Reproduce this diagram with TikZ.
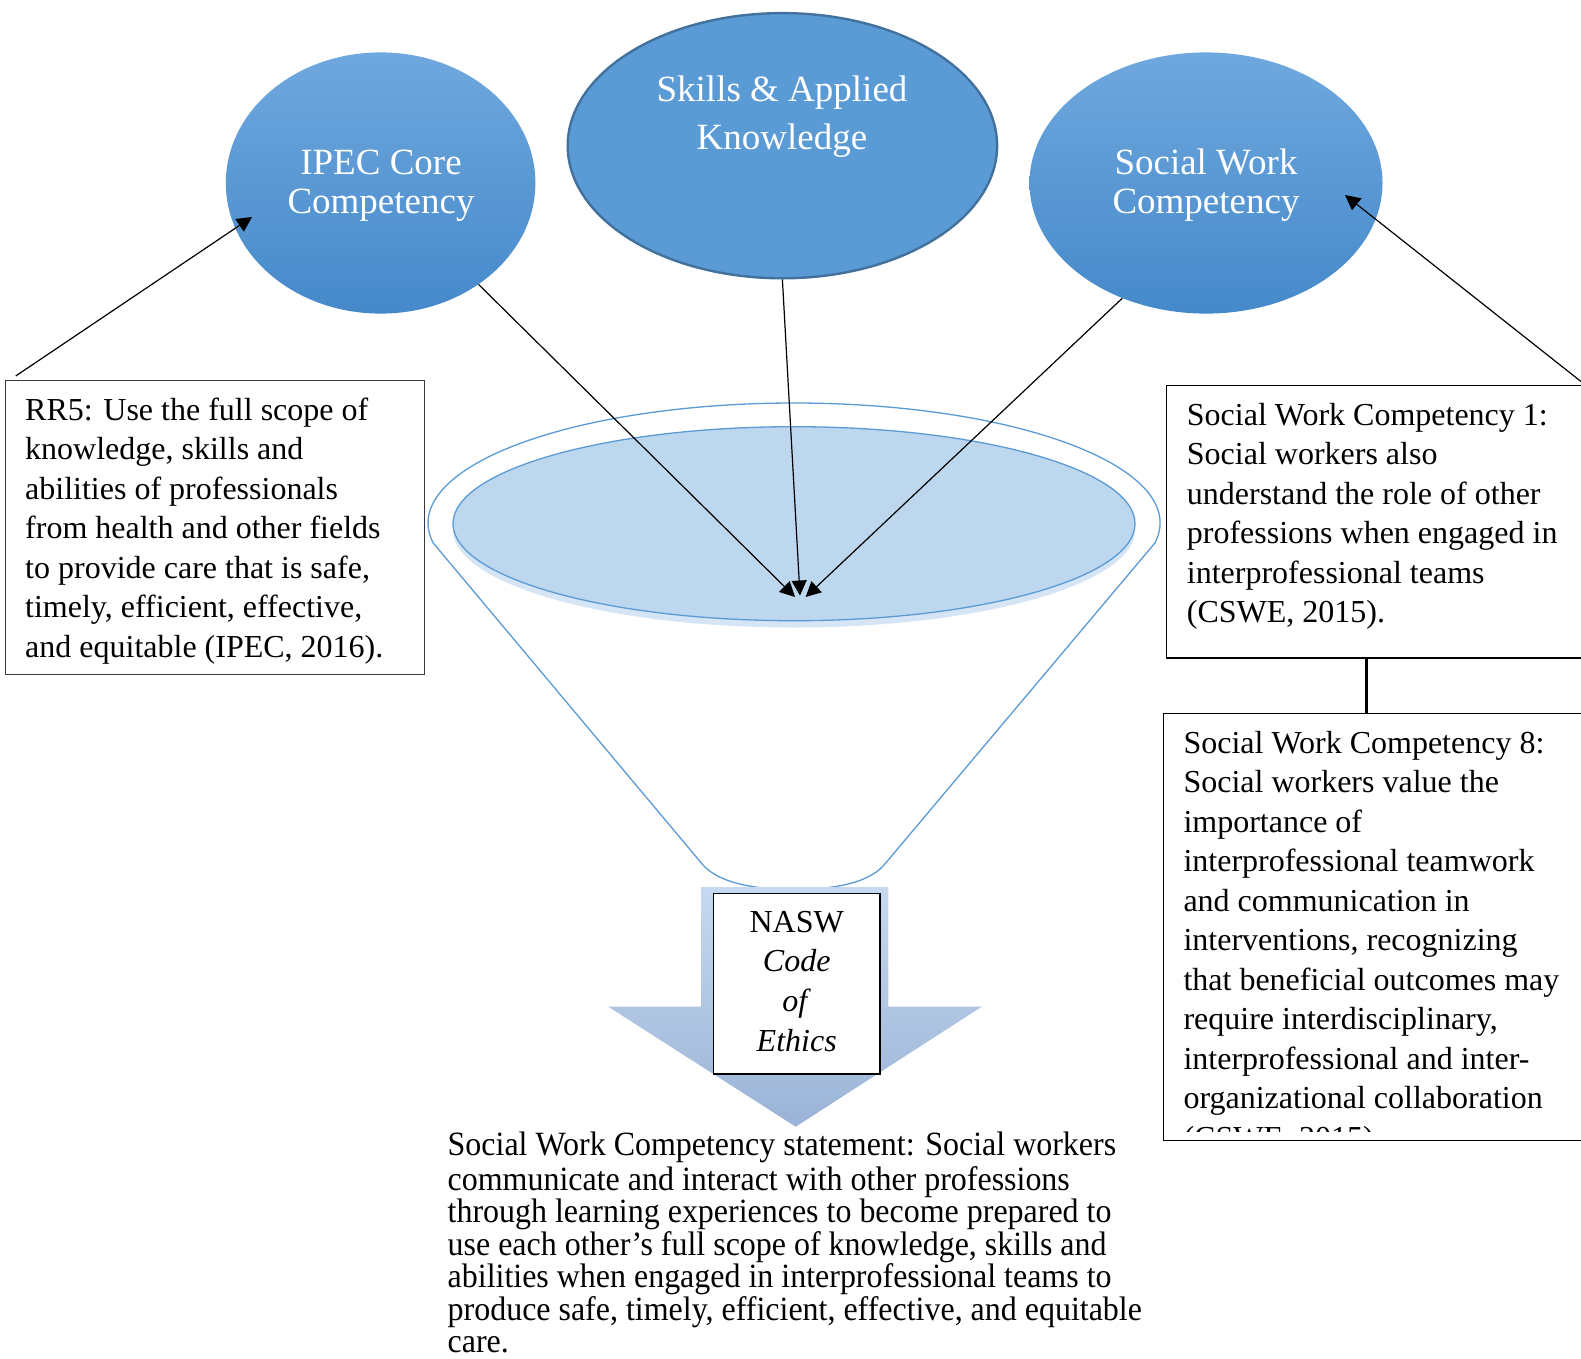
\documentclass[tikz,border=0pt]{standalone}
\usepackage{fontspec}
\setmainfont{Liberation Serif}
\newfontfamily\narrowfont[FakeStretch=0.94]{Liberation Serif}
\usetikzlibrary{arrows.meta,calc,shapes.geometric}

\definecolor{ovalTop}{HTML}{6FA8DE}
\definecolor{ovalBot}{HTML}{4589CA}
\definecolor{ovalFill}{HTML}{5B9BD5}
\definecolor{ovalEdge}{HTML}{41719C}
\definecolor{rimBlue}{HTML}{5B9BD5}
\definecolor{poolFill}{HTML}{BDD7EE}
\definecolor{poolShade}{HTML}{D6E5F5}
\definecolor{flowTop}{HTML}{C6D9F0}
\definecolor{flowBot}{HTML}{9AB3D6}
\definecolor{boxEdge}{HTML}{3A3A3A}

\begin{document}
\begin{tikzpicture}[x=1pt,y=1pt,
  oval/.style={ellipse, inner sep=0pt},
  ovaltext/.style={text=white, align=center, anchor=north, inner sep=0pt,
    font=\fontsize{37}{39}\selectfont},
  textbox/.style={draw=boxEdge, line width=1.4pt, fill=white, inner sep=0pt,
    anchor=north west},
  bodytext/.style={align=left, anchor=north west, inner sep=0pt,
    font=\fontsize{32}{39.5}\selectfont},
  link/.style={draw=black, line width=1.2pt, -{Triangle[length=15pt,width=15pt]}},
]
% canvas
\fill[white] (0,0) rectangle (1581,-1358);
\useasboundingbox (0,0) rectangle (1581,-1358);

% the three competency ovals
\node[oval, minimum width=309.6, minimum height=261.2,
  top color=ovalTop, bottom color=ovalBot] (ipec) at (380.6,-183) {};
\node[oval, minimum width=429.4, minimum height=265.2,
  fill=ovalFill, draw=ovalEdge, line width=2.4pt] (skills) at (782.4,-145.7) {};
\node[oval, minimum width=353, minimum height=261.2,
  top color=ovalTop, bottom color=ovalBot] (sw) at (1206,-183) {};

\node[ovaltext] (ipecT) at (381,-146.7) {\strut IPEC Core\\Competency};
\node[ovaltext, font=\fontsize{37}{47.3}\selectfont] (skillsT) at (782,-68.6)
  {\strut Skills \& Applied\\Knowledge};
\node[ovaltext] (swT) at (1206,-146.7) {\strut Social Work\\Competency};

% funnel outline
\draw[rimBlue, line width=1.3pt]
  (1154.9,-543) arc[start angle=-9.6, end angle=189.6, x radius=366, y radius=120]
  -- (703,-865)
  .. controls (722,-886) and (765,-889.5) .. (794,-889.5)
  .. controls (823,-889.5) and (866,-886) .. (884,-865)
  -- cycle;

% funnel pool with its soft shadow
\fill[poolShade] (794,-530) ellipse [x radius=341, y radius=97.5];
\node[oval, minimum width=682, minimum height=194, fill=poolFill,
  draw=rimBlue, line width=1.3pt] (pool) at (794,-523.7) {};

% broad downward arrow
\shade[top color=flowTop, bottom color=flowBot]
  (701,-887) -- (888.3,-887) -- (888.3,-1006.7) -- (981.7,-1006.7)
  -- (795.7,-1126.7) -- (608.3,-1006.7) -- (701,-1006.7) -- cycle;

% connectors into the funnel
\coordinate (tipL) at (795,-597);
\coordinate (tipM) at (800,-595.5);
\coordinate (tipR) at (805.7,-597);
\draw[link] (ipec.314) -- (tipL);
\draw[link] (skills.south) -- (tipM);
\draw[link] (sw.234) -- (tipR);

% NASW box
\node[textbox, draw=black, line width=1.5pt, anchor=center,
  minimum width=166.7, minimum height=180.7, align=center,
  font=\fontsize{32}{39.6}\selectfont] (nasw) at (796.7,-983.7)
  {\strut NASW\\\textit{Code}\\\textit{of}\\\textit{Ethics}\strut};

% left text box
\node[textbox, minimum width=419.3, minimum height=294] (rr5) at (4.7,-380) {};
\node[bodytext] (rr5T) at (25,-392.5) {\strut RR5: Use the full scope of\\
knowledge, skills and\\
abilities of professionals\\
from health and other fields\\
to provide care that is safe,\\
timely, efficient, effective,\\
and equitable (IPEC, 2016).};

% right text boxes
\node[textbox, draw=black, minimum width=418, minimum height=272.3] (sw1) at (1166,-385) {};
\node[bodytext] (sw1T) at (1186.7,-397.4) {\strut Social Work Competency 1:\\
Social workers also\\
understand the role of other\\
professions when engaged in\\
interprofessional teams\\
(CSWE, 2015).};

\node[textbox, draw=black, minimum width=421.3, minimum height=427.3] (sw8) at (1162.7,-712.7) {};
\begin{scope}
  \clip (1150,-700) rectangle (1590,-1131.5);
  \node[bodytext] (sw8T) at (1183.3,-725.4) {\strut Social Work Competency 8:\\
Social workers value the\\
importance of\\
interprofessional teamwork\\
and communication in\\
interventions, recognizing\\
that beneficial outcomes may\\
require interdisciplinary,\\
interprofessional and inter-\\
organizational collaboration\\
(CSWE, 2015).};
\end{scope}

\coordinate (joint) at (1366.7,0);
\draw[line width=3.3pt] (sw1.south -| joint) -- (sw8.north -| joint);

% connectors from the text boxes to the ovals
\coordinate (ipecIn) at (252,-217);
\coordinate (swIn) at (1345,-195);
\draw[link] ($(rr5.north west)+(11,4)$) -- (ipecIn);
\draw[link] (sw1.north east) -- (swIn);

% competency statement
\node[bodytext, font=\narrowfont\fontsize{34}{32.4}\selectfont] (stmt) at (447.5,-1132)
{\strut Social Work Competency statement: Social workers\\
communicate and interact with other professions\\
through learning experiences to become prepared to\\
use each other’s full scope of knowledge, skills and\\
abilities when engaged in interprofessional teams to\\
produce safe, timely, efficient, effective, and equitable\\
care.};
\end{tikzpicture}
\end{document}
